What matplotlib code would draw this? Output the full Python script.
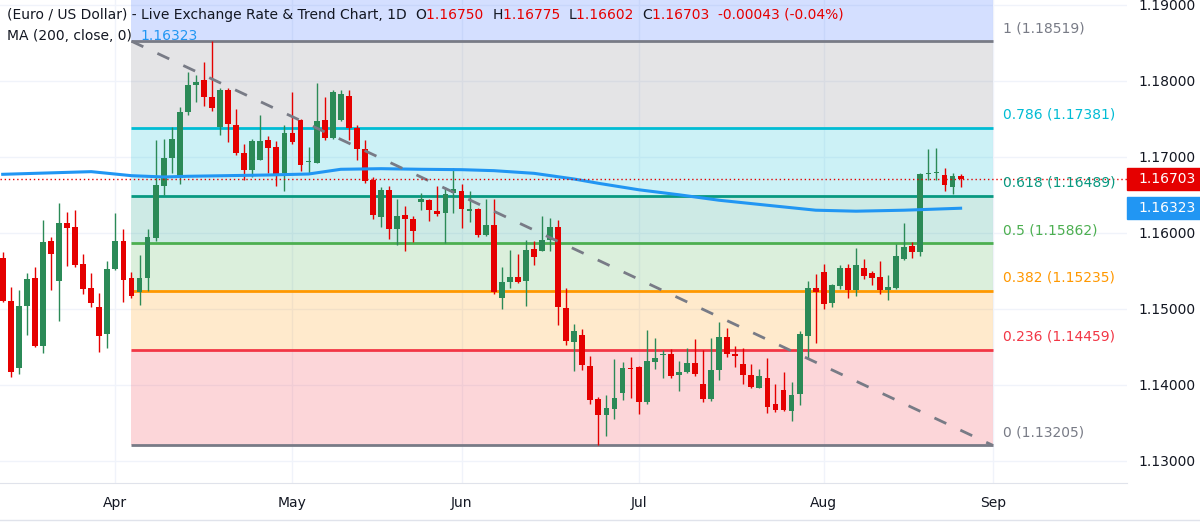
import numpy as np
import matplotlib
matplotlib.use('Agg')
import matplotlib.pyplot as plt
from matplotlib.patches import Rectangle
from matplotlib.lines import Line2D
from matplotlib.transforms import blended_transform_factory

# daily EUR/USD candles (bar index 0..119)
opens = [1.15664, 1.15108, 1.14227, 1.15042, 1.15401, 1.14516, 1.15888, 1.15370, 1.16129, 1.16072,
         1.15590, 1.15270, 1.15029, 1.14669, 1.15524, 1.15888, 1.15405, 1.15226, 1.15405, 1.15932,
         1.16620, 1.16988, 1.16725, 1.17588, 1.17948, 1.18005, 1.17786, 1.17395, 1.17878, 1.17422,
         1.17054, 1.16826, 1.16961, 1.17216, 1.17124, 1.16782, 1.17312, 1.17483, 1.16931, 1.16922,
         1.17479, 1.17246, 1.17483, 1.17799, 1.17373, 1.17102, 1.16694, 1.16212, 1.16563, 1.16050,
         1.16234, 1.16177, 1.16409, 1.16431, 1.16287, 1.16265, 1.16519, 1.16554, 1.16291, 1.16313,
         1.15971, 1.16108, 1.15144, 1.15354, 1.15420, 1.15363, 1.15784, 1.15758, 1.15902, 1.16082,
         1.15013, 1.14565, 1.14662, 1.14254, 1.13820, 1.13601, 1.13689, 1.13891, 1.14224, 1.14232,
         1.13772, 1.14302, 1.14390, 1.14412, 1.14127, 1.14167, 1.14294, 1.14018, 1.13820, 1.14193,
         1.14629, 1.14401, 1.14270, 1.14125, 1.13958, 1.14086, 1.13744, 1.13937, 1.13656, 1.13875,
         1.14638, 1.15269, 1.15479, 1.15076, 1.15295, 1.15532, 1.15243, 1.15532, 1.15466, 1.15414,
         1.15243, 1.15269, 1.15650, 1.15821, 1.15747, 1.16772, 1.16785, 1.16755, 1.16601, 1.16750]
highs = [1.15752, 1.15283, 1.15248, 1.15476, 1.15546, 1.16164, 1.15945, 1.16392, 1.16278, 1.16295,
         1.15721, 1.15476, 1.15204, 1.15629, 1.16265, 1.16045, 1.15489, 1.15708, 1.16045, 1.17220,
         1.17233, 1.17387, 1.17659, 1.18110, 1.18075, 1.18241, 1.18519, 1.17900, 1.17900, 1.17628,
         1.17168, 1.17233, 1.17549, 1.17273, 1.17203, 1.17413, 1.17851, 1.17490, 1.17124, 1.17970,
         1.17785, 1.17878, 1.17878, 1.17878, 1.17413, 1.17216, 1.16729, 1.16602, 1.16615, 1.16444,
         1.16352, 1.16221, 1.16519, 1.16440, 1.16615, 1.16606, 1.16848, 1.16642, 1.16549, 1.16330,
         1.16440, 1.16446, 1.15552, 1.15780, 1.15727, 1.15902, 1.15894, 1.16227, 1.16200, 1.16170,
         1.15275, 1.14807, 1.14736, 1.14386, 1.13842, 1.13873, 1.14342, 1.14307, 1.14368, 1.14246,
         1.14728, 1.14622, 1.14456, 1.14473, 1.14320, 1.14491, 1.14609, 1.14456, 1.14622, 1.14824,
         1.14747, 1.14506, 1.14480, 1.14270, 1.14204, 1.14349, 1.14007, 1.14173, 1.14037, 1.14704,
         1.15361, 1.15462, 1.15585, 1.15330, 1.15580, 1.15585, 1.15795, 1.15650, 1.15497, 1.15624,
         1.15440, 1.15848, 1.16132, 1.15874, 1.16790, 1.17097, 1.17110, 1.16856, 1.16790, 1.16775]
lows = [1.15094, 1.14108, 1.14139, 1.14660, 1.14503, 1.14424, 1.15243, 1.14845, 1.15568, 1.15555,
        1.15200, 1.15020, 1.14437, 1.14481, 1.15511, 1.15094, 1.15138, 1.15050, 1.15239, 1.15892,
        1.16497, 1.16782, 1.16642, 1.17553, 1.17726, 1.17672, 1.17606, 1.17286, 1.17190, 1.17023,
        1.16694, 1.16738, 1.16957, 1.16782, 1.16620, 1.16554, 1.17163, 1.16812, 1.16769, 1.16915,
        1.17220, 1.17229, 1.17474, 1.17220, 1.16957, 1.16659, 1.16177, 1.16080, 1.15918, 1.15835,
        1.15765, 1.15879, 1.16300, 1.16159, 1.16221, 1.15861, 1.16256, 1.16067, 1.16137, 1.15949,
        1.15958, 1.15197, 1.15000, 1.15276, 1.15341, 1.15034, 1.15574, 1.15758, 1.15758, 1.14785,
        1.14522, 1.14180, 1.14193, 1.13755, 1.13205, 1.13334, 1.13553, 1.13807, 1.13829, 1.13623,
        1.13755, 1.14210, 1.14088, 1.14088, 1.13917, 1.14158, 1.14114, 1.13772, 1.13785, 1.14061,
        1.14366, 1.14235, 1.14015, 1.13963, 1.13958, 1.13634, 1.13643, 1.13656, 1.13525, 1.13730,
        1.14335, 1.14550, 1.14997, 1.15024, 1.15260, 1.15142, 1.15168, 1.15392, 1.15313, 1.15195,
        1.15115, 1.15256, 1.15642, 1.15663, 1.15690, 1.16689, 1.16689, 1.16549, 1.16505, 1.16602]
closes = [1.15108, 1.14165, 1.15037, 1.15392, 1.14516, 1.15879, 1.15717, 1.16129, 1.16068, 1.15577,
          1.15265, 1.15081, 1.14647, 1.15524, 1.15888, 1.15379, 1.15169, 1.15405, 1.15945, 1.16628,
          1.16983, 1.17233, 1.17588, 1.17949, 1.17983, 1.17790, 1.17645, 1.17878, 1.17426, 1.17045,
          1.16826, 1.17211, 1.17203, 1.17115, 1.16769, 1.17312, 1.17198, 1.16896, 1.16948, 1.17470,
          1.17242, 1.17856, 1.17829, 1.17382, 1.17102, 1.16685, 1.16238, 1.16563, 1.16050, 1.16221,
          1.16181, 1.16019, 1.16440, 1.16300, 1.16247, 1.16506, 1.16576, 1.16308, 1.16313, 1.15971,
          1.16102, 1.15219, 1.15350, 1.15420, 1.15354, 1.15780, 1.15679, 1.15902, 1.16082, 1.15021,
          1.14579, 1.14714, 1.14267, 1.13807, 1.13610, 1.13698, 1.13834, 1.14224, 1.14215, 1.13772,
          1.14320, 1.14355, 1.14412, 1.14123, 1.14167, 1.14294, 1.14149, 1.13816, 1.14202, 1.14631,
          1.14410, 1.14379, 1.14125, 1.13972, 1.14112, 1.13709, 1.13674, 1.13665, 1.13862, 1.14664,
          1.15269, 1.15221, 1.15059, 1.15308, 1.15532, 1.15243, 1.15571, 1.15431, 1.15405, 1.15243,
          1.15282, 1.15690, 1.15808, 1.15747, 1.16768, 1.16781, 1.16794, 1.16632, 1.16742, 1.16703]

# 200-day moving average, read at some bars
ma_bars = [0, 11, 16, 20, 23, 33, 38, 42, 47, 52, 57, 61, 66, 71, 74, 79, 84, 89, 95, 101, 106, 112, 119]
ma_vals = [1.16769, 1.16804, 1.16751, 1.16734, 1.16743, 1.16760, 1.16773, 1.16835, 1.16843, 1.16835,
           1.16830, 1.16817, 1.16782, 1.16707, 1.16651, 1.16566, 1.16500, 1.16428, 1.16362, 1.16297,
           1.16284, 1.16297, 1.16323]

# fibonacci retracement
fib_ratios = ['1', '0.786', '0.618', '0.5', '0.382', '0.236', '0']
fib_prices = [1.18519, 1.17381, 1.16489, 1.15862, 1.15235, 1.14459, 1.13205]
fib_colors = ['#787b86', '#00bcd4', '#089981', '#4caf50', '#ff9800', '#f23645', '#787b86']
fib_start, fib_end = 16, 123

month_bars = [14, 36, 57, 79, 102, 123]
month_labels = ['Apr', 'May', 'Jun', 'Jul', 'Aug', 'Sep']
y_ticks = [1.13, 1.14, 1.15, 1.16, 1.17, 1.18, 1.19]

last_price = 1.16703
ma_last = 1.16323

GREEN = '#2b8a57'
RED = '#e50000'
TXT = '#131722'
W, H = 1200, 524

fig = plt.figure(figsize=(12, 5.24), dpi=100)
ax = fig.add_axes([0, 41 / H, 1127 / W, 483 / H])
ax.set_xlim(-0.335, 139.67)
ax.set_ylim(1.12710, 1.19061)

# grid
for yt in y_ticks:
    ax.axhline(yt, color='#f0f3fa', lw=1, zorder=0)
for mb in month_bars:
    ax.axvline(mb, color='#f0f3fa', lw=1, zorder=0)

# fib bands: each band takes the colour of the level above it
ax.fill_between([fib_start, fib_end], fib_prices[0], 1.20, color='#2962ff', alpha=0.2, lw=0, zorder=1)
for i in range(len(fib_prices) - 1):
    ax.fill_between([fib_start, fib_end], fib_prices[i + 1], fib_prices[i],
                    color=fib_colors[i], alpha=0.2, lw=0, zorder=1)
for r, p, c in zip(fib_ratios, fib_prices, fib_colors):
    ax.plot([fib_start, fib_end], [p, p], color=c, lw=2, zorder=2, solid_capstyle='butt')
    ax.annotate(f'{r} ({p:.5f})', (124.3, p), xytext=(0, 9.4), textcoords='offset points',
                color=c, fontsize=10, va='center', ha='left', zorder=6)

# candles
x = np.arange(len(opens))
o = np.array(opens)
c = np.array(closes)
cols = [GREEN if cc >= oo else RED for oo, cc in zip(o, c)]
ax.vlines(x, lows, highs, colors=cols, lw=1, zorder=3)
body_lo = np.minimum(o, c)
body_h = np.maximum(np.abs(c - o), 0.00012)
ax.bar(x, body_h, bottom=body_lo, width=0.72, color=cols, lw=0, zorder=3)

# moving average
ax.plot(ma_bars, ma_vals, color='#2196f3', lw=2.2, zorder=4, solid_joinstyle='round')

# fib trend line
ax.plot([fib_start, fib_end], [fib_prices[0], fib_prices[-1]], color='#787b86', lw=2,
        linestyle=(0, (4.7, 5.6)), zorder=5)

# last price line
ax.axhline(last_price, color=RED, lw=1, linestyle=(0, (1, 2)), zorder=5)

for s in ['top', 'left', 'right']:
    ax.spines[s].set_visible(False)
ax.spines['bottom'].set_color('#e0e3eb')
ax.set_xticks(month_bars)
ax.set_xticklabels(month_labels)
ax.yaxis.tick_right()
ax.set_yticks(y_ticks)
ax.set_yticklabels([f'{v:.5f}' for v in y_ticks])
ax.tick_params(axis='both', length=0, labelsize=10, labelcolor=TXT)
ax.tick_params(axis='y', pad=8)
ax.tick_params(axis='x', pad=9)

# price boxes on the axis
tr = blended_transform_factory(fig.transFigure, ax.transData)
for val, col in [(last_price, RED), (ma_last, '#2196f3')]:
    box = Rectangle((1127 / W, val - 0.00145), 73 / W, 0.0029, transform=tr, color=col,
                    clip_on=False, zorder=10)
    fig.add_artist(box)
    fig.text(1138 / W, val, f'{val:.5f}', transform=tr, color='white', fontsize=10,
             va='center', ha='left', zorder=11)

fig.add_artist(Line2D([0, 1], [1 - 520 / H, 1 - 520 / H], transform=fig.transFigure,
                      color='#e0e3eb', lw=1))

# header rows
r = fig.canvas.get_renderer()


def put_row(x0, y, parts):
    xx = x0
    for s, col in parts:
        t = fig.text(xx / W, 1 - y / H, s, color=col, fontsize=10, va='center', ha='left', zorder=12)
        xx += t.get_window_extent(renderer=r).width


put_row(7, 15, [('(Euro / US Dollar) - Live Exchange Rate & Trend Chart, 1D  ', TXT),
                ('O', TXT), ('1.16750  ', RED), ('H', TXT), ('1.16775  ', RED),
                ('L', TXT), ('1.16602  ', RED), ('C', TXT), ('1.16703  ', RED),
                ('-0.00043 (-0.04%)', RED)])
put_row(7, 36, [('MA (200, close, 0)  ', TXT), ('1.16323', '#2196f3')])

fig.savefig('out.png', dpi=100)
